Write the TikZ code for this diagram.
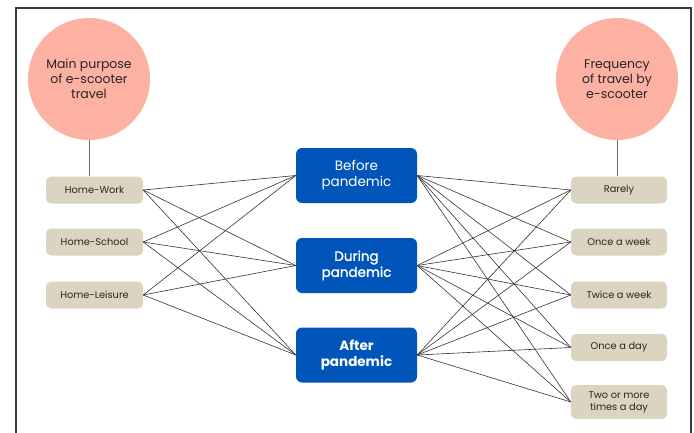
\documentclass[tikz,border=0pt]{standalone}
\usepackage{fontspec}
\setmainfont{Poppins}
\newfontfamily\midfont[FakeBold=1.5]{Poppins}
\definecolor{salmon}{HTML}{FDB1A3}
\definecolor{beige}{HTML}{DBD4C0}
\definecolor{navy}{HTML}{0055BB}
\definecolor{frame}{HTML}{3A3A3A}
\begin{document}
\begin{tikzpicture}[x=1pt,y=-1pt,
  circ/.style={circle,fill=salmon,minimum size=122pt,inner sep=0pt,align=center,font=\fontsize{12.5}{15}\selectfont,text=black!85},
  side/.style={rounded corners=5pt,fill=beige,minimum width=97pt,minimum height=27pt,inner sep=0pt,align=center,font=\fontsize{9.8}{12}\selectfont,text=black!85},
  mid/.style={rounded corners=6pt,fill=navy,minimum width=121pt,minimum height=55pt,inner sep=0pt,align=center,font=\fontsize{13.5}{16}\selectfont,text=white},
  link/.style={draw=black!80,line width=0.6pt},
  stem/.style={draw=black!60,line width=0.9pt}]
\useasboundingbox (0,0) rectangle (694,432);
\draw[frame,line width=1.4pt] (16,440) -- (16,8) -- (691,8) -- (691,440);
\node[circ] (cL) at (89,79) {Main purpose\\of e-scooter\\travel};
\node[circ] (cR) at (617,79) {Frequency\\of travel by\\e-scooter};
\node[side] (hw) at (94.5,190) {Home-Work};
\node[side] (hs) at (94.5,242) {Home-School};
\node[side] (hl) at (94.5,295) {Home-Leisure};
\node[mid] (b) at (356.5,175.5) {Before\\pandemic};
\node[mid] (d) at (356.5,265.5) {{\midfont During}\\{\midfont pandemic}};
\node[mid] (a) at (356.5,355) {\bfseries After\\\bfseries pandemic};
\node[side,minimum width=96pt] (r1) at (619,190) {Rarely};
\node[side,minimum width=96pt] (r2) at (619,242) {Once a week};
\node[side,minimum width=96pt] (r3) at (619,295) {Twice a week};
\node[side,minimum width=96pt] (r4) at (619,347.5) {Once a day};
\node[side,minimum width=96pt,minimum height=34pt] (r5) at (619,402) {Two or more\\times a day};
\draw[stem] (cL.south) -- (cL.south |- hw.north);
\draw[stem] (cR.south) -- (cR.south |- r1.north);
\foreach \l in {hw,hs,hl}{
  \foreach \m in {b,d,a}{
    \draw[link] (\l.east) -- (\m.west);
  }
}
\foreach \m in {b,d,a}{
  \foreach \r in {r1,r2,r3,r4,r5}{
    \draw[link] (\m.east) -- (\r.west);
  }
}
\end{tikzpicture}
\end{document}
